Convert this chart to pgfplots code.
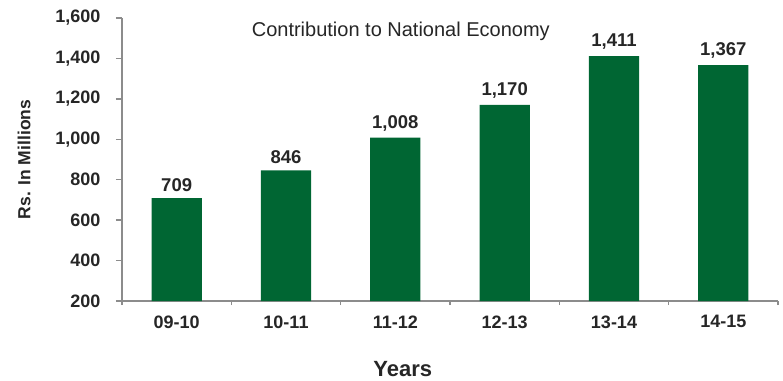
\documentclass[border=0pt]{standalone}
\usepackage{pgfplots}
\pgfplotsset{compat=1.18}
\usepackage{fontspec}
\setmainfont{Liberation Sans}
\definecolor{bargreen}{HTML}{006633}
\definecolor{axgray}{HTML}{8C8C8C}
\begin{document}
\begin{tikzpicture}
\begin{axis}[
  name=ax,
  scale only axis,
  width=656pt, height=283pt,
  xmin=-0.5, xmax=5.5,
  ymin=200, ymax=1600,
  ytick={200,400,...,1600},
  xtick={0,...,5},
  xticklabels={09-10,10-11,11-12,12-13,13-14,14-15},
  minor xtick={-0.5,0.5,...,5.5},
  axis x line*=bottom,
  axis y line*=left,
  axis line style={axgray, line width=1.6pt, -},
  tick align=outside,
  major tick length=6pt,
  minor tick length=4pt,
  x tick style={draw=none},
  minor x tick style={draw=axgray, line width=1.4pt},
  y tick style={axgray, line width=1.4pt},
  /pgf/number format/assume math mode=true,
  /pgf/number format/1000 sep={,},
  ticklabel style={font=\fontsize{18}{20}\selectfont\bfseries, text=black!85},
  xticklabel style={yshift=-5pt},
  yticklabel style={xshift=-12pt},
  xlabel={Years},
  xlabel style={at={([yshift=-68pt]axis description cs:0.428,0)}, anchor=center, font=\fontsize{22}{24}\selectfont\bfseries, text=black!85},
  ylabel={Rs. In Millions},
  ylabel style={at={([xshift=-98pt]axis description cs:0,0.5)}, anchor=center, font=\fontsize{17.5}{20}\selectfont\bfseries, text=black!85},
  clip=false,
  nodes near coords,
  every node near coord/.append style={font=\fontsize{18.5}{20}\selectfont\bfseries, text=black!85, anchor=south, yshift=3pt},
]
\addplot[ybar, bar width=0.46, fill=bargreen, draw=none] coordinates {
  (0,709) (1,846) (2,1008) (3,1170) (4,1411) (5,1367)
};
\node[font=\fontsize{20}{22}\selectfont, text=black!85] at (axis description cs:0.425,0.952) {Contribution to National Economy};
\end{axis}
\pgfresetboundingbox
\path[use as bounding box] ([shift={(-122pt,-79pt)}]ax.south west) rectangle ([shift={(5pt,18pt)}]ax.north east);
\end{tikzpicture}
\end{document}
